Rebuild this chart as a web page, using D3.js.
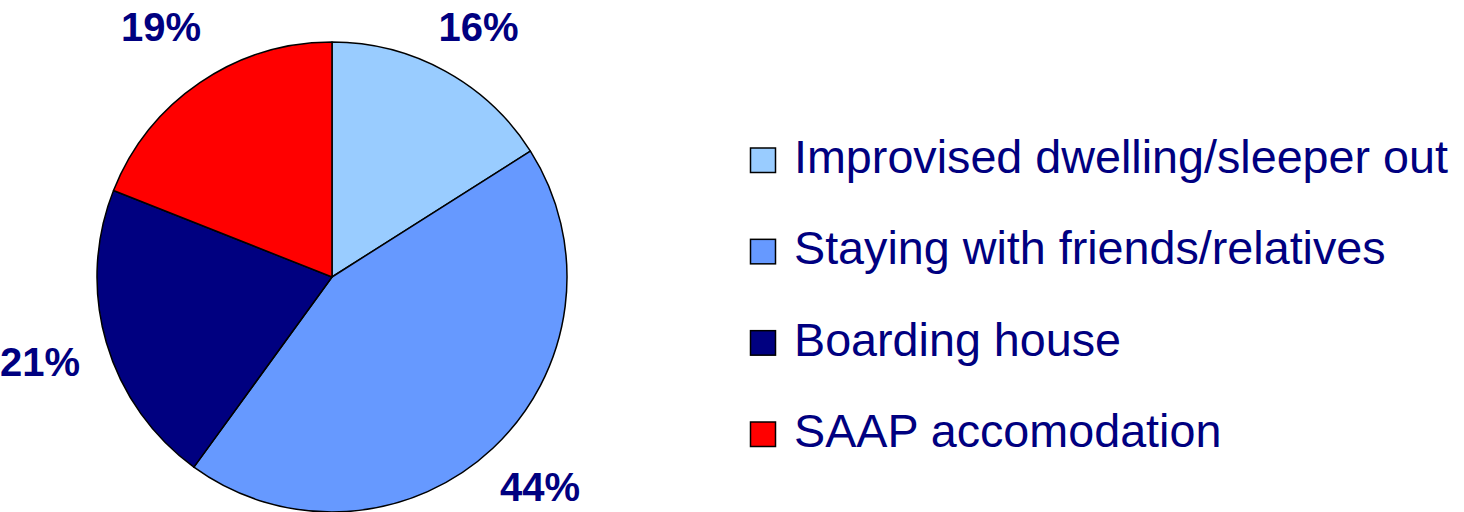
<!DOCTYPE html>
<html>
<head>
<meta charset="utf-8">
<script src="https://cdn.jsdelivr.net/npm/d3@7"></script>
<style>
  html, body { margin: 0; padding: 0; background: #ffffff; }
  svg { display: block; }
</style>
</head>
<body>
<svg id="chart" width="1464" height="512"></svg>
<script>
const categories = [
  "Improvised dwelling/sleeper out",
  "Staying with friends/relatives",
  "Boarding house",
  "SAAP accomodation"
];
const values = [16, 44, 21, 19];
const labels = ["16%", "44%", "21%", "19%"];
const colors = ["#99CCFF", "#6699FF", "#000080", "#FF0000"];

const svg = d3.select("#chart");
const W = 1464, H = 512;
const cx = 332, cy = 277, R = 235;
const textColor = "#000080";
const capHalf = 14.5;

const data = categories.map((c, i) => ({ name: c, value: values[i], label: labels[i], color: colors[i] }));

const pie = d3.pie().value(d => d.value).sort(null);
const arcs = pie(data);
const arc = d3.arc().innerRadius(0).outerRadius(R);
const labelArc = d3.arc().innerRadius(304).outerRadius(304);

const g = svg.append("g").attr("transform", `translate(${cx},${cy})`);

g.selectAll("path.slice")
  .data(arcs)
  .join("path")
  .attr("class", "slice")
  .attr("d", arc)
  .attr("fill", d => d.data.color)
  .attr("stroke", "#000")
  .attr("stroke-width", 1.5)
  .attr("stroke-linejoin", "round");

function labelPos(d) {
  const [x, y] = labelArc.centroid(d);
  const yc = Math.max(26 - cy, Math.min(H - 26 - cy, y));
  return [x, yc];
}

g.selectAll("text.pct")
  .data(arcs)
  .join("text")
  .attr("class", "pct")
  .attr("x", d => labelPos(d)[0])
  .attr("y", d => labelPos(d)[1] + capHalf)
  .attr("text-anchor", "middle")
  .attr("font-family", "'Liberation Sans', Arial, sans-serif")
  .attr("font-weight", "bold")
  .attr("font-size", 40)
  .attr("fill", textColor)
  .text(d => d.data.label);

// Legend
const legendY = d3.scalePoint().domain(categories).range([173, 447]);
const legend = svg.append("g");
const rows = legend.selectAll("g.row")
  .data(data)
  .join("g")
  .attr("class", "row")
  .attr("transform", d => `translate(0,${legendY(d.name)})`);

rows.append("rect")
  .attr("x", 750.5)
  .attr("y", -25)
  .attr("width", 25)
  .attr("height", 24.5)
  .attr("fill", d => d.color)
  .attr("stroke", "#000")
  .attr("stroke-width", 1.5);

rows.append("text")
  .attr("x", 794)
  .attr("y", 0)
  .attr("font-family", "'Liberation Sans', Arial, sans-serif")
  .attr("font-size", 46.7)
  .attr("fill", textColor)
  .text(d => d.name);
</script>
</body>
</html>
